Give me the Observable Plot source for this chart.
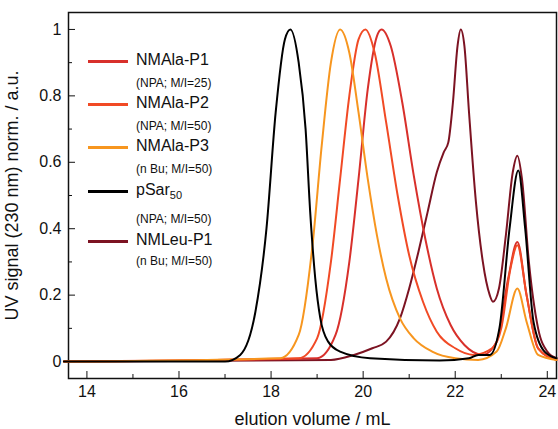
<!DOCTYPE html>
<html><head><meta charset="utf-8">
<script src="https://cdn.jsdelivr.net/npm/d3@7"></script>
<script src="https://cdn.jsdelivr.net/npm/@observablehq/plot@0.6"></script>
<style>
body{margin:0;background:#fff;font-family:"Liberation Sans",Arial,sans-serif}
#wrap{position:relative;width:558px;height:429px}
.leg{position:absolute;left:88px;font-size:16px;color:#111}
.leg .ln{position:absolute;left:0;width:40px;height:3px}
.leg .t{position:absolute;left:48px;white-space:nowrap}
.leg .s{position:absolute;left:48px;font-size:12px;white-space:nowrap}
</style></head><body>
<div id="wrap"><div id="chart"></div><div id="legend"></div></div>
<script>
const names = ["NMAla-P1","NMAla-P2","NMAla-P3","pSar50","NMLeu-P1"];
const subs = ["(NPA; M/I=25)","(NPA; M/I=50)","(n Bu; M/I=50)","(NPA; M/I=50)","(n Bu; M/I=50)"];
const colors = ["#d8302b","#f14a25","#f7961f","#000000","#7c1322"];

const xP1 = [13.5,19.0,19.4,19.7,19.9,20.1,20.3,20.4,20.6,20.85,21.1,21.35,21.6,21.9,22.2,22.6,22.9,23.15,23.35,23.55,23.8,24.2];
const yP1 = [0,0.01,0.08,0.3,0.55,0.82,0.98,1.0,0.95,0.78,0.56,0.37,0.22,0.11,0.05,0.02,0.06,0.25,0.36,0.2,0.04,0.005];
const xP2 = [13.5,18.6,19.0,19.3,19.5,19.7,19.9,20.05,20.25,20.5,20.75,21.0,21.3,21.6,22.0,22.4,22.8,23.0,23.2,23.35,23.55,23.8,24.2];
const yP2 = [0,0.01,0.07,0.3,0.55,0.8,0.97,1.0,0.93,0.72,0.5,0.32,0.18,0.09,0.04,0.02,0.04,0.1,0.28,0.35,0.2,0.04,0.005];
const xP3 = [13.5,18.2,18.6,18.9,19.1,19.3,19.5,19.7,19.9,20.1,20.3,20.5,20.8,21.1,21.5,22.0,22.5,22.9,23.1,23.35,23.55,23.8,24.2];
const yP3 = [0,0.01,0.08,0.35,0.65,0.9,1.0,0.93,0.75,0.55,0.38,0.25,0.13,0.07,0.03,0.01,0.005,0.03,0.1,0.22,0.12,0.02,0.005];
const xSar = [13.5,17.0,17.33,17.66,17.9,18.1,18.3,18.42,18.6,18.75,18.85,18.96,19.07,19.24,19.5,20.15,21.66,22.3,22.5,22.75,22.96,23.18,23.37,23.52,23.7,23.94,24.2];
const ySar = [0,0,0.02,0.15,0.4,0.75,0.97,1.0,0.9,0.7,0.45,0.25,0.13,0.06,0.03,0.01,0.003,0.01,0.02,0.02,0.1,0.4,0.575,0.4,0.12,0.03,0.01];
const xLeu = [13.5,19.3,19.8,20.2,20.5,20.8,21.0,21.2,21.4,21.6,21.75,21.85,21.95,22.05,22.12,22.2,22.3,22.45,22.6,22.75,22.82,22.95,23.1,23.25,23.35,23.45,23.6,23.8,24.0,24.2];
const yLeu = [0,0.005,0.02,0.04,0.06,0.13,0.22,0.33,0.45,0.57,0.63,0.66,0.78,0.95,1.0,0.95,0.75,0.48,0.3,0.2,0.18,0.22,0.38,0.57,0.62,0.55,0.3,0.1,0.03,0.01];

const xs = [xP1,xP2,xP3,xSar,xLeu], ys = [yP1,yP2,yP3,ySar,yLeu];
const order = [4,0,1,2,3];
const marks = order.map(i => Plot.line(xs[i].map((x,j)=>({x, y: ys[i][j]})),
  {x:"x", y:"y", stroke: colors[i], strokeWidth: 2, curve: "monotone-x"}));

const chart = Plot.plot({
  width: 558, height: 429,
  marginLeft: 68, marginRight: 2, marginTop: 12, marginBottom: 51,
  style: {fontFamily: "Liberation Sans, Arial, sans-serif", fontSize: "16px", color: "#111"},
  x: {domain: [13.6, 24.2]},
  y: {domain: [-0.051, 1.051]},
  marks: [
    Plot.frame({strokeWidth: 1.5}),
    Plot.axisX({ticks: [14,16,18,20,22,24], tickSize: -7, tickPadding: 14, label: null}),
    Plot.text(["elution volume / mL"], {frameAnchor: "bottom", dy: 46, fontSize: 18}),
    Plot.axisX({ticks: [15,17,19,21,23], tickSize: -4, tickFormat: () => "", label: null}),
    Plot.axisY({ticks: [0,0.2,0.4,0.6,0.8,1], tickSize: -7, tickPadding: 14, tickFormat: d3.format("~g"), label: null}),
    Plot.text(["UV signal (230 nm) norm. / a.u."], {frameAnchor: "left", textAnchor: "middle", dx: -56, rotate: -90, fontSize: 18}),
    Plot.axisY({ticks: [0.1,0.3,0.5,0.7,0.9], tickSize: -4, tickFormat: () => "", label: null}),
    ...marks
  ]
});
document.getElementById("chart").append(chart);

const rowY = [51,94,137,181,231], subY = [76,119,162,212,254];
const leg = document.getElementById("legend");
names.forEach((n,i) => {
  const d = document.createElement("div");
  d.className = "leg"; d.style.top = rowY[i] + "px";
  const label = n === "pSar50" ? "pSar<sub style='font-size:11px'>50</sub>" : n;
  d.innerHTML = `<div class="ln" style="top:9px;background:${colors[i]}"></div><div class="t">${label}</div>`
    + `<div class="s" style="top:${subY[i]-rowY[i]}px">${subs[i]}</div>`;
  leg.append(d);
});
</script></body></html>
